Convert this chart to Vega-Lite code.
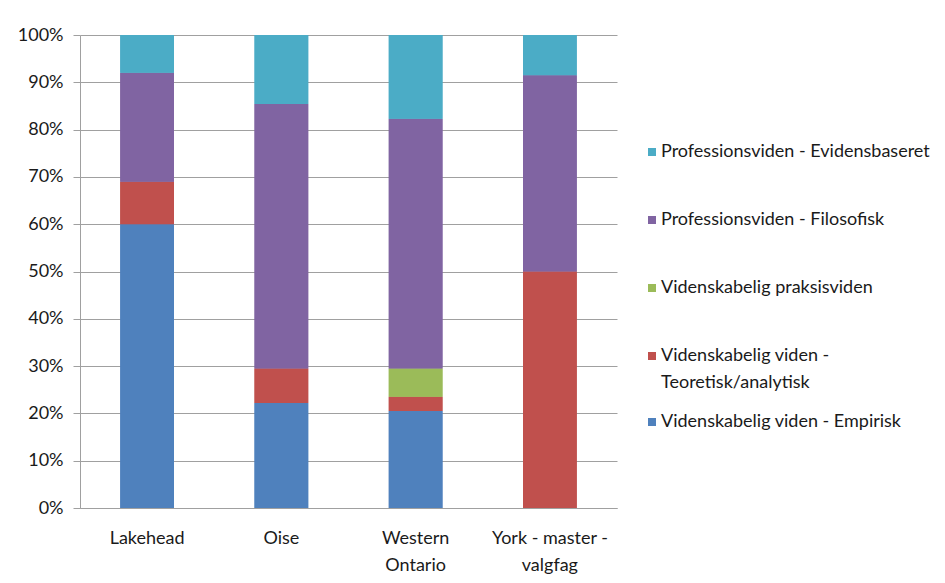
{
  "$schema": "https://vega.github.io/schema/vega-lite/v6.json",
  "width": 537,
  "height": 473,
  "autosize": "none",
  "padding": {"left": 80, "top": 35, "right": 328, "bottom": 75},
  "background": "white",
  "config": {
    "view": {"stroke": null},
    "font": "Lato",
    "axis": {"labelFont": "Lato", "labelFontSize": 18, "labelColor": "#1a1a1a", "domainColor": "#a0a0a0", "gridColor": "#a0a0a0", "tickColor": "#a0a0a0"},
    "legend": {"labelFont": "Lato", "labelFontSize": 18, "labelColor": "#1a1a1a"}
  },
  "data": {
    "values": [
      {"school": "Lakehead", "type": "Videnskabelig viden - Empirisk", "rank": 1, "pct": 60},
      {"school": "Lakehead", "type": "Videnskabelig viden - Teoretisk/analytisk", "rank": 2, "pct": 9},
      {"school": "Lakehead", "type": "Videnskabelig praksisviden", "rank": 3, "pct": 0},
      {"school": "Lakehead", "type": "Professionsviden - Filosofisk", "rank": 4, "pct": 23},
      {"school": "Lakehead", "type": "Professionsviden - Evidensbaseret", "rank": 5, "pct": 8},
      {"school": "Oise", "type": "Videnskabelig viden - Empirisk", "rank": 1, "pct": 22.2},
      {"school": "Oise", "type": "Videnskabelig viden - Teoretisk/analytisk", "rank": 2, "pct": 7.3},
      {"school": "Oise", "type": "Videnskabelig praksisviden", "rank": 3, "pct": 0},
      {"school": "Oise", "type": "Professionsviden - Filosofisk", "rank": 4, "pct": 55.9},
      {"school": "Oise", "type": "Professionsviden - Evidensbaseret", "rank": 5, "pct": 14.6},
      {"school": "Western Ontario", "type": "Videnskabelig viden - Empirisk", "rank": 1, "pct": 20.5},
      {"school": "Western Ontario", "type": "Videnskabelig viden - Teoretisk/analytisk", "rank": 2, "pct": 3.0},
      {"school": "Western Ontario", "type": "Videnskabelig praksisviden", "rank": 3, "pct": 6.0},
      {"school": "Western Ontario", "type": "Professionsviden - Filosofisk", "rank": 4, "pct": 52.8},
      {"school": "Western Ontario", "type": "Professionsviden - Evidensbaseret", "rank": 5, "pct": 17.7},
      {"school": "York - master - valgfag", "type": "Videnskabelig viden - Empirisk", "rank": 1, "pct": 0},
      {"school": "York - master - valgfag", "type": "Videnskabelig viden - Teoretisk/analytisk", "rank": 2, "pct": 50},
      {"school": "York - master - valgfag", "type": "Videnskabelig praksisviden", "rank": 3, "pct": 0},
      {"school": "York - master - valgfag", "type": "Professionsviden - Filosofisk", "rank": 4, "pct": 41.5},
      {"school": "York - master - valgfag", "type": "Professionsviden - Evidensbaseret", "rank": 5, "pct": 8.5}
    ]
  },
  "encoding": {
    "x": {
      "field": "school",
      "type": "nominal",
      "sort": null,
      "title": null,
      "scale": {"paddingInner": 0.6, "paddingOuter": 0.3},
      "axis": {
        "labelAngle": 0,
        "ticks": false,
        "labelPadding": 30,
        "labelLineHeight": 27,
        "labelBaseline": "middle",
        "labelExpr": "datum.value == 'Western Ontario' ? ['Western', 'Ontario'] : datum.value == 'York - master - valgfag' ? ['York - master -', 'valgfag'] : datum.label"
      }
    },
    "y": {
      "field": "pct",
      "type": "quantitative",
      "stack": "normalize",
      "title": null,
      "scale": {"domain": [0, 1], "nice": false},
      "axis": {"format": ".0%", "values": [0, 0.1, 0.2, 0.3, 0.4, 0.5, 0.6, 0.7, 0.8, 0.9, 1], "labelOverlap": false, "tickSize": 7, "labelPadding": 10, "grid": true, "domain": true}
    },
    "order": {"field": "rank", "type": "quantitative", "sort": "ascending"}
  },
  "layer": [
    {
      "mark": {"type": "bar"},
      "encoding": {
        "color": {
          "field": "type",
          "type": "nominal",
          "scale": {
            "domain": ["Professionsviden - Evidensbaseret", "Professionsviden - Filosofisk", "Videnskabelig praksisviden", "Videnskabelig viden - Teoretisk/analytisk", "Videnskabelig viden - Empirisk"],
            "range": ["#4BACC6", "#8064A2", "#9BBB59", "#C0504D", "#4F81BD"]
          },
          "legend": {
            "title": null,
            "orient": "none",
            "legendX": 563,
            "legendY": 108,
            "values": ["Professionsviden - Evidensbaseret", "Professionsviden - Filosofisk", "Videnskabelig praksisviden", "Videnskabelig viden - Teoretisk/analytisk"],
            "symbolType": "square",
            "symbolSize": 64,
            "symbolStrokeWidth": 0,
            "labelOffset": 0,
            "rowPadding": 50,
            "labelLimit": 400,
            "labelExpr": "datum.label == 'Videnskabelig viden - Teoretisk/analytisk' ? ['Videnskabelig viden -', 'Teoretisk/analytisk'] : datum.label",
            "encode": {"labels": {"update": {"lineHeight": {"value": 27}}}}
          }
        }
      }
    },
    {
      "mark": {"type": "bar"},
      "encoding": {
        "color": {
          "field": "type",
          "type": "nominal",
          "scale": {
            "domain": ["Professionsviden - Evidensbaseret", "Professionsviden - Filosofisk", "Videnskabelig praksisviden", "Videnskabelig viden - Teoretisk/analytisk", "Videnskabelig viden - Empirisk"],
            "range": ["#4BACC6", "#8064A2", "#9BBB59", "#C0504D", "#4F81BD"]
          },
          "legend": {
            "title": null,
            "orient": "none",
            "legendX": 563,
            "legendY": 378,
            "values": ["Videnskabelig viden - Empirisk"],
            "symbolType": "square",
            "symbolSize": 64,
            "symbolStrokeWidth": 0,
            "labelOffset": 0,
            "labelLimit": 400
          }
        }
      }
    }
  ],
  "resolve": {"scale": {"color": "independent"}, "legend": {"color": "independent"}}
}
